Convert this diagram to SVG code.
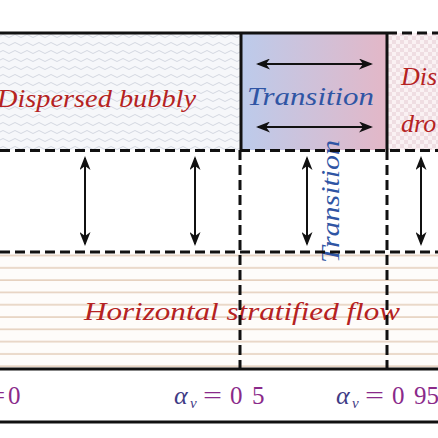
<svg xmlns="http://www.w3.org/2000/svg" width="438" height="438" viewBox="0 0 438 438">
<style>
.solid{stroke:#111;stroke-width:3;fill:none}
.dash{stroke:#111;stroke-width:3;fill:none;stroke-dasharray:10 5}
.lbl{font-family:"Liberation Serif",serif;font-style:italic;font-size:26px}
.red{fill:#b52222}
.blue{fill:#2f55a4}
.al{font-family:"Liberation Serif",serif;font-size:25px;fill:#8a2a8a}
.alpha{font-family:"Liberation Serif",serif;font-style:italic;fill:#3f3c86}
.arr{stroke:#111;stroke-width:2;fill:none;marker-start:url(#ah);marker-end:url(#ah)}
</style>
<defs>
<marker id="ah" viewBox="0 0 14 11" refX="12" refY="5.5" markerWidth="14" markerHeight="11" orient="auto-start-reverse" markerUnits="userSpaceOnUse">
<path d="M0,0 L14,5.5 L0,11 L4,5.5 Z" fill="#111"/>
</marker>
<pattern id="wave" width="12" height="8" patternUnits="userSpaceOnUse">
<rect width="12" height="8" fill="#f6f7fa"/>
<path d="M0,4 Q3,1 6,4 T12,4" stroke="#d4d7e1" stroke-width="1" fill="none"/>
</pattern>
<pattern id="check" width="8" height="8" patternUnits="userSpaceOnUse">
<rect width="8" height="8" fill="#faf1f3"/>
<rect width="4" height="4" fill="#efdde2"/>
<rect x="4" y="4" width="4" height="4" fill="#efdde2"/>
</pattern>
<pattern id="strat" width="438" height="12.3" patternUnits="userSpaceOnUse" y="254.5">
<rect width="438" height="12.3" fill="#fefcfa"/>
<line x1="0" y1="1" x2="438" y2="1" stroke="#e6d2c0" stroke-width="1.6"/>
</pattern>
<linearGradient id="tg" x1="0" y1="0" x2="1" y2="0">
<stop offset="0" stop-color="#bccbeb"/>
<stop offset="1" stop-color="#e3b7c7"/>
</linearGradient>
</defs>
<rect width="438" height="438" fill="#fff"/>
<g id="bubbly">
<rect x="0" y="33" width="241" height="117" fill="url(#wave)"/>
<text class="lbl red" x="-3" y="107" textLength="199" lengthAdjust="spacingAndGlyphs">Dispersed bubbly</text>
</g>
<g id="transition">
<rect x="241" y="33" width="146" height="117" fill="url(#tg)"/>
<text class="lbl blue" x="247" y="105" textLength="127" lengthAdjust="spacingAndGlyphs">Transition</text>
</g>
<g id="droplet">
<rect x="387" y="33" width="51" height="117" fill="url(#check)"/>
<text class="lbl red" x="401" y="85">Dis</text>
<text class="lbl red" x="401" y="132">dro</text>
</g>
<g id="stratified">
<rect x="0" y="252" width="438" height="117" fill="url(#strat)"/>
<text class="lbl red" x="84" y="320" textLength="316" lengthAdjust="spacingAndGlyphs">Horizontal stratified flow</text>
</g>
<g id="transition-v">
<text class="lbl blue" transform="translate(339,263) rotate(-90)" textLength="123" lengthAdjust="spacingAndGlyphs">Transition</text>
</g>
<g id="connectors">
<line class="solid" x1="0" y1="33" x2="387" y2="33"/>
<line class="dash" x1="387" y1="33" x2="438" y2="33"/>
<line class="solid" x1="241" y1="33" x2="241" y2="150"/>
<line class="solid" x1="387" y1="33" x2="387" y2="150"/>
<line class="dash" x1="0" y1="150.5" x2="438" y2="150.5"/>
<line class="dash" x1="0" y1="252" x2="438" y2="252"/>
<line class="dash" x1="240" y1="150" x2="240" y2="369"/>
<line class="dash" x1="387" y1="150" x2="387" y2="369"/>
<line class="solid" x1="0" y1="369" x2="438" y2="369"/>
<line class="solid" x1="0" y1="422" x2="438" y2="422"/>
<line class="arr" x1="258" y1="64" x2="371" y2="64"/>
<line class="arr" x1="258" y1="127" x2="371" y2="127"/>
<line class="arr" x1="85" y1="158" x2="85" y2="244"/>
<line class="arr" x1="195" y1="158" x2="195" y2="244"/>
<line class="arr" x1="307" y1="158" x2="307" y2="244"/>
<line class="arr" x1="421" y1="158" x2="421" y2="244"/>
</g>
<g id="axis">
<text class="al" x="-9" y="404" textLength="14" lengthAdjust="spacingAndGlyphs">=</text>
<text class="al" x="8" y="404">0</text>
<text class="alpha" x="174" y="404" font-size="26">α</text>
<text class="alpha" x="190" y="408" font-size="15">v</text>
<text class="al" x="203" y="404" textLength="19" lengthAdjust="spacingAndGlyphs">=</text>
<text class="al" x="230" y="404">0</text>
<text class="al" x="252" y="404">5</text>
<text class="alpha" x="336" y="404" font-size="26">α</text>
<text class="alpha" x="352" y="408" font-size="15">v</text>
<text class="al" x="365" y="404" textLength="19" lengthAdjust="spacingAndGlyphs">=</text>
<text class="al" x="392" y="404">0</text>
<text class="al" x="414" y="404">95</text>
</g>
</svg>
